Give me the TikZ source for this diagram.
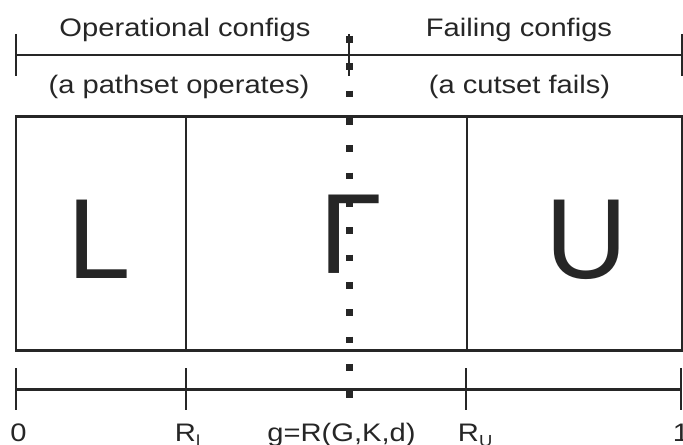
\documentclass[tikz,border=0pt]{standalone}
\usepackage{fontspec}
\setmainfont{Liberation Sans}
\newfontfamily\widefont[FakeStretch=1.15]{Liberation Sans}
\usetikzlibrary{positioning}
\definecolor{ink}{RGB}{38,38,38}

\begin{document}
\begin{tikzpicture}[x=0.75pt, y=-0.75pt,
  scaleline/.style={draw=ink, line width=1.8pt},
  tick/.style={draw=ink, line width=1.8pt},
  dotline/.style={draw=ink, line width=5pt, dash pattern=on 5pt off 15.5pt},
  scaletext/.style={text=ink, inner sep=0pt, anchor=base, font=\widefont\fontsize{19}{21}\selectfont},
  letter/.style={text=ink, inner sep=0pt, anchor=base west, font=\fontsize{85.5}{90}\selectfont}]
\useasboundingbox (0,0) rectangle (683,445);
% scale points
\coordinate (top0) at (16,55);
\coordinate (topg) at (349,55);
\coordinate (top1) at (682,55);
\coordinate (bot0) at (16,389.5);
\coordinate (botl) at (186,389.5);
\coordinate (botu) at (466,389.5);
\coordinate (bot1) at (681,389.5);
\coordinate (gtop) at (349.3,36);
\coordinate (gbot) at (349.3,398);
% top scale
\draw[scaleline] (top0) -- (top1);
\foreach \p in {top0,topg,top1,bot0,botl,botu,bot1}
  \draw[tick] (\p) ++(0,-21) -- ++(0,42);
\node[scaletext] (oper) at (185,36.5) {Operational configs};
\node[scaletext] (fail) at (519,36.5) {Failing configs};
\node[scaletext] (path) at (179,94) {(a pathset operates)};
\node[scaletext] (cut) at (519.5,94) {(a cutset fails)};
% the three regions
\draw[scaleline] (16,116.5) rectangle (682,350.5);
\draw[scaleline] (186,116.5) -- (186,350.5);
\draw[scaleline] (467,116.5) -- (467,350.5);
% bottom scale
\draw[scaleline] (bot0) -- (bot1);
\draw[dotline] (gtop) -- (gbot);
\node[letter] (lower) at (67.7,278.5) {L};
\node[letter] (gamma) at (319,274) {Γ};
\node[letter] (upper) at (545,278.5) {U};
\node[scaletext] (zero) at (18.5,441.7) {0};
\node[scaletext, anchor=base west] (rl) at (174.7,441.7) {R\raisebox{-3.5pt}{\fontsize{12}{12}\selectfont l}};
\node[scaletext] (g) at (341.5,441.7) {g=R(G,K,d)};
\node[scaletext, anchor=base west] (ru) at (457.7,441.7) {R\raisebox{-3.5pt}{\fontsize{12}{12}\selectfont U}};
\node[scaletext, anchor=base west] (one) at (672.5,441.7) {1};
\end{tikzpicture}
\end{document}
